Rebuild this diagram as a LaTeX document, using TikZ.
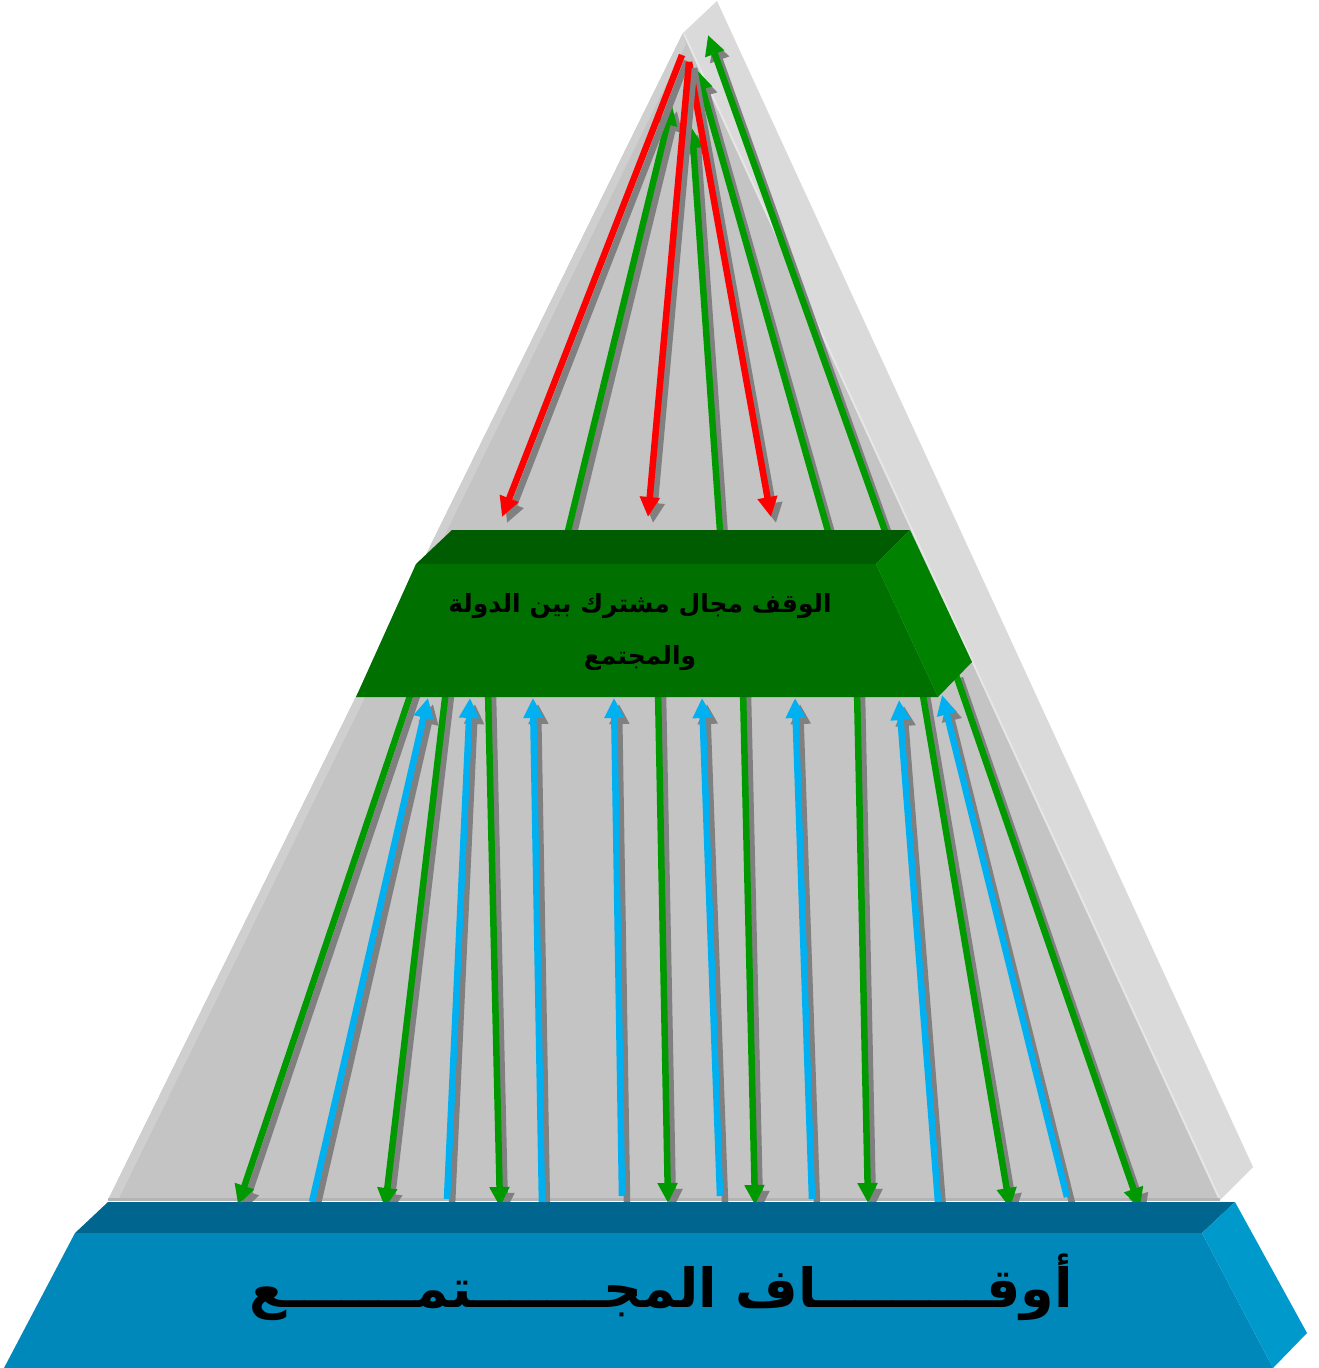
\documentclass[tikz,border=0pt]{standalone}
\usepackage{fontspec}
\newfontfamily\arabicfont[Script=Arabic]{DejaVu Sans}
\TeXXeTstate=1
\usetikzlibrary{arrows.meta}
\definecolor{pyrfront}{HTML}{C4C4C4}
\definecolor{pyrstrip}{HTML}{CFCFCF}
\definecolor{pyrside}{HTML}{DADADA}
\definecolor{pyredge}{HTML}{E6E6E6}
\definecolor{pyrbase}{HTML}{B4B4B4}
\definecolor{slabtop}{HTML}{00668F}
\definecolor{slabfront}{HTML}{0088BA}
\definecolor{slabside}{HTML}{0099CC}
\definecolor{boxtop}{HTML}{005C00}
\definecolor{boxfront}{HTML}{007000}
\definecolor{boxside}{HTML}{008200}
\definecolor{arrgreen}{HTML}{009900}
\definecolor{arrred}{HTML}{FF0000}
\definecolor{arrblue}{HTML}{00B0F0}
\definecolor{shadowgray}{HTML}{808080}
\tikzset{
  arw/.style={line width=6.5pt, -{Triangle[length=20pt,width=19pt]}},
  shd/.style={arw, color=shadowgray}
}
\newcommand\myarrow[3]{%
  \draw[shd] ([shift={(5,6)}]#2) -- ([shift={(5,6)}]#3);
  \draw[arw,color=#1] (#2) -- (#3);}
\begin{document}
\begin{tikzpicture}[x=1pt,y=-1pt]
\useasboundingbox (0,0) rectangle (1318,1368);
% pyramid
\fill[pyrside] (683,33) -- (717,1) -- (1253,1167) -- (1220,1200) -- cycle;
\fill[pyrfront] (683,33) -- (108,1200) -- (1220,1200) -- cycle;
\fill[pyrstrip] (683,33) -- (108,1200) -- (118,1200) -- (686,44) -- cycle;
\draw[pyredge, line width=2pt] (684,34) -- (1220,1200);
\draw[pyrbase, line width=3pt] (108,1199) -- (1220,1199);
% coordinates of connectors, upper part
\coordinate (r1s) at (682,55);  \coordinate (r1e) at (502,517);
\coordinate (r2s) at (689,62);  \coordinate (r2e) at (648,517);
\coordinate (r3s) at (689,62);  \coordinate (r3e) at (771,517);
\coordinate (g1s) at (568,531); \coordinate (g1e) at (672,105);
\coordinate (g2s) at (720,531); \coordinate (g2e) at (692,128);
\coordinate (g3s) at (828,531); \coordinate (g3e) at (697,70);
\coordinate (g4s) at (885,531); \coordinate (g4e) at (708,35);
% lower part
\coordinate (d1s) at (412,690); \coordinate (d1e) at (238,1205);
\coordinate (d2s) at (446,690); \coordinate (d2e) at (385,1208);
\coordinate (d3s) at (488,690); \coordinate (d3e) at (500,1207);
\coordinate (d4s) at (658,690); \coordinate (d4e) at (668,1203);
\coordinate (d5s) at (743,690); \coordinate (d5e) at (755,1205);
\coordinate (d6s) at (857,690); \coordinate (d6e) at (868,1203);
\coordinate (d7s) at (922,690); \coordinate (d7e) at (1010,1208);
\coordinate (d8s) at (955,672); \coordinate (d8e) at (1140,1208);
\coordinate (u1s) at (312,1202); \coordinate (u1e) at (428,698);
\coordinate (u2s) at (447,1199); \coordinate (u2e) at (470,698);
\coordinate (u3s) at (542,1205); \coordinate (u3e) at (533,698);
\coordinate (u4s) at (622,1196); \coordinate (u4e) at (614,698);
\coordinate (u5s) at (720,1196); \coordinate (u5e) at (702,698);
\coordinate (u6s) at (812,1199); \coordinate (u6e) at (795,698);
\coordinate (u7s) at (938,1202); \coordinate (u7e) at (899,700);
\coordinate (u8s) at (1067,1197); \coordinate (u8e) at (942,695);
% upper arrows
\myarrow{arrgreen}{g4s}{g4e}
\myarrow{arrgreen}{g3s}{g3e}
\myarrow{arrgreen}{g2s}{g2e}
\myarrow{arrgreen}{g1s}{g1e}
\myarrow{arrred}{r1s}{r1e}
\myarrow{arrred}{r3s}{r3e}
\myarrow{arrred}{r2s}{r2e}
% lower arrows
\myarrow{arrgreen}{d1s}{d1e}
\myarrow{arrblue}{u1s}{u1e}
\myarrow{arrgreen}{d2s}{d2e}
\myarrow{arrblue}{u2s}{u2e}
\myarrow{arrgreen}{d3s}{d3e}
\myarrow{arrblue}{u3s}{u3e}
\myarrow{arrblue}{u4s}{u4e}
\myarrow{arrgreen}{d4s}{d4e}
\myarrow{arrblue}{u5s}{u5e}
\myarrow{arrgreen}{d5s}{d5e}
\myarrow{arrblue}{u6s}{u6e}
\myarrow{arrgreen}{d6s}{d6e}
\myarrow{arrblue}{u7s}{u7e}
\myarrow{arrgreen}{d7s}{d7e}
\myarrow{arrblue}{u8s}{u8e}
\myarrow{arrgreen}{d8s}{d8e}
% green box
\fill[boxtop] (452,530) -- (910,530) -- (876,564) -- (416,564) -- cycle;
\fill[boxfront] (416,564) -- (876,564) -- (938,697) -- (356,697) -- cycle;
\fill[boxside] (876,564) -- (910,530) -- (972,662) -- (938,697) -- cycle;
\node[align=center, font=\arabicfont\bfseries\fontsize{25}{52}\selectfont, text=black]
  (boxtext) at (640,632) {\beginR الوقف مجال مشترك بين الدولة\endR\\ \beginR والمجتمع\endR};
% blue slab
\fill[slabtop] (108,1202) -- (1235,1202) -- (1202,1233) -- (75,1233) -- cycle;
\fill[slabfront] (75,1233) -- (1202,1233) -- (1273,1368) -- (4,1368) -- cycle;
\fill[slabside] (1202,1233) -- (1235,1202) -- (1307,1333) -- (1273,1368) -- cycle;
\node[font=\arabicfont\bfseries\fontsize{54}{62}\selectfont, text=black]
  (slabtext) at (661,1287) {\beginR أوقـــــــــاف المجـــــــتمـــــــع\endR};
\end{tikzpicture}
\end{document}
